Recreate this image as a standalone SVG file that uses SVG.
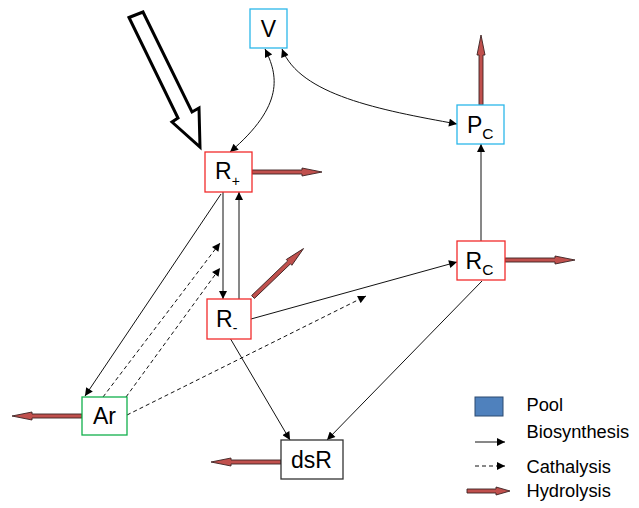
<svg xmlns="http://www.w3.org/2000/svg" width="639" height="508" viewBox="0 0 639 508">
  <style>
    .box { fill: #ffffff; stroke-width: 1.3; }
    .red { stroke: #f22b2b; }
    .blue { stroke: #2bb7ea; }
    .green { stroke: #12b04c; }
    .gray { stroke: #333333; }
    .lbl { font-family: "Liberation Sans", Arial, sans-serif; font-size: 23px; fill: #000000; }
    .leg { font-family: "Liberation Sans", Arial, sans-serif; font-size: 18.3px; fill: #000000; }
    .bio { fill: none; stroke: #111111; stroke-width: 1; marker-end: url(#ah); }
    .both { marker-start: url(#ah); }
    .cat { fill: none; stroke: #111111; stroke-width: 1; stroke-dasharray: 4 3; marker-end: url(#ah); }
    .hyd { fill: #c0504d; stroke: #3c2322; stroke-width: 0.9; }
  </style>
  <defs>
    <marker id="ah" viewBox="0 0 10 10" refX="10" refY="5" markerWidth="9" markerHeight="8" markerUnits="userSpaceOnUse" orient="auto-start-reverse">
      <path d="M0,0 L10,5 L0,10 z" fill="#000000"/>
    </marker>
    <!-- hydrolysis arrow, 70 px long, pointing along +x from its tail -->
    <path id="hydro" class="hyd" d="M0,-2 H50 V-4 L70,0 L50,4 V2 H0 Z"/>
  </defs>

  <rect width="639" height="508" fill="#ffffff"/>

  <!-- external input arrow -->
  <polygon points="129,17.5 143,12 192,112 199,108 200,147 172,122 178,118" fill="#ffffff" stroke="#000000" stroke-width="3" stroke-linejoin="miter"/>

  <g id="connectors">
    <path class="bio both" d="M265,49 C278,75 285,105 230,152"/>
    <path class="bio both" d="M282,49 C300,95 380,110 457,124"/>
    <path class="bio" d="M481,241 V144"/>
    <path class="bio" d="M223,192 V299"/>
    <path class="bio" d="M239,299 V192"/>
    <path class="bio" d="M221,194 L85,396"/>
    <path class="bio" d="M251,319 L457,262"/>
    <path class="bio" d="M230,338 L290,440"/>
    <path class="bio" d="M482,281 L327,440"/>
    <path class="cat" d="M103,397 L220,243"/>
    <path class="cat" d="M126,397 L220,268"/>
    <path class="cat" d="M127,415 L366,296"/>
    <!-- hydrolysis outflows -->
    <use href="#hydro" transform="translate(252,172)"/>
    <use href="#hydro" transform="translate(253,297) rotate(-43.8)"/>
    <use href="#hydro" transform="translate(481,105) rotate(-90)"/>
    <use href="#hydro" transform="translate(505,260)"/>
    <use href="#hydro" transform="translate(82,416) rotate(180)"/>
    <use href="#hydro" transform="translate(281,462) rotate(180)"/>
  </g>

  <g id="node-V">
    <rect class="box blue" x="250" y="9" width="37" height="39"/>
    <text class="lbl" x="268.5" y="37" text-anchor="middle">V</text>
  </g>
  <g id="node-Rplus">
    <rect class="box red" x="205" y="152" width="47" height="40"/>
    <text class="lbl" x="215" y="179">R<tspan font-size="14" dy="7">+</tspan></text>
  </g>
  <g id="node-Rminus">
    <rect class="box red" x="207" y="299" width="44" height="40"/>
    <text class="lbl" x="216" y="327">R<tspan font-size="14" dy="6">-</tspan></text>
  </g>
  <g id="node-PC">
    <rect class="box blue" x="457" y="105" width="47" height="39"/>
    <text class="lbl" x="467" y="133">P<tspan font-size="15.5" dy="5.5">C</tspan></text>
  </g>
  <g id="node-RC">
    <rect class="box red" x="457" y="241" width="48" height="39"/>
    <text class="lbl" x="465.5" y="268.5">R<tspan font-size="15.5" dy="6.5">C</tspan></text>
  </g>
  <g id="node-Ar">
    <rect class="box green" x="82" y="397" width="45" height="38"/>
    <text class="lbl" x="104.5" y="424" text-anchor="middle">Ar</text>
  </g>
  <g id="node-dsR">
    <rect class="box gray" x="281" y="440" width="62" height="39"/>
    <text class="lbl" x="311.5" y="468" text-anchor="middle">dsR</text>
  </g>

  <g id="legend">
    <rect x="475" y="397" width="28" height="19" fill="#4f81bd" stroke="#2c4a70" stroke-width="1"/>
    <text class="leg" x="526.5" y="411">Pool</text>
    <path class="bio" d="M475,442 H505"/>
    <text class="leg" x="526.5" y="438">Biosynthesis</text>
    <path class="cat" d="M475,466 H505"/>
    <text class="leg" x="526.5" y="473">Cathalysis</text>
    <path class="hyd" d="M467,-2 H496 V-4 L510,0 L496,4 V2 H467 Z" transform="translate(0,491)"/>
    <text class="leg" x="526.5" y="497">Hydrolysis</text>
  </g>
</svg>
